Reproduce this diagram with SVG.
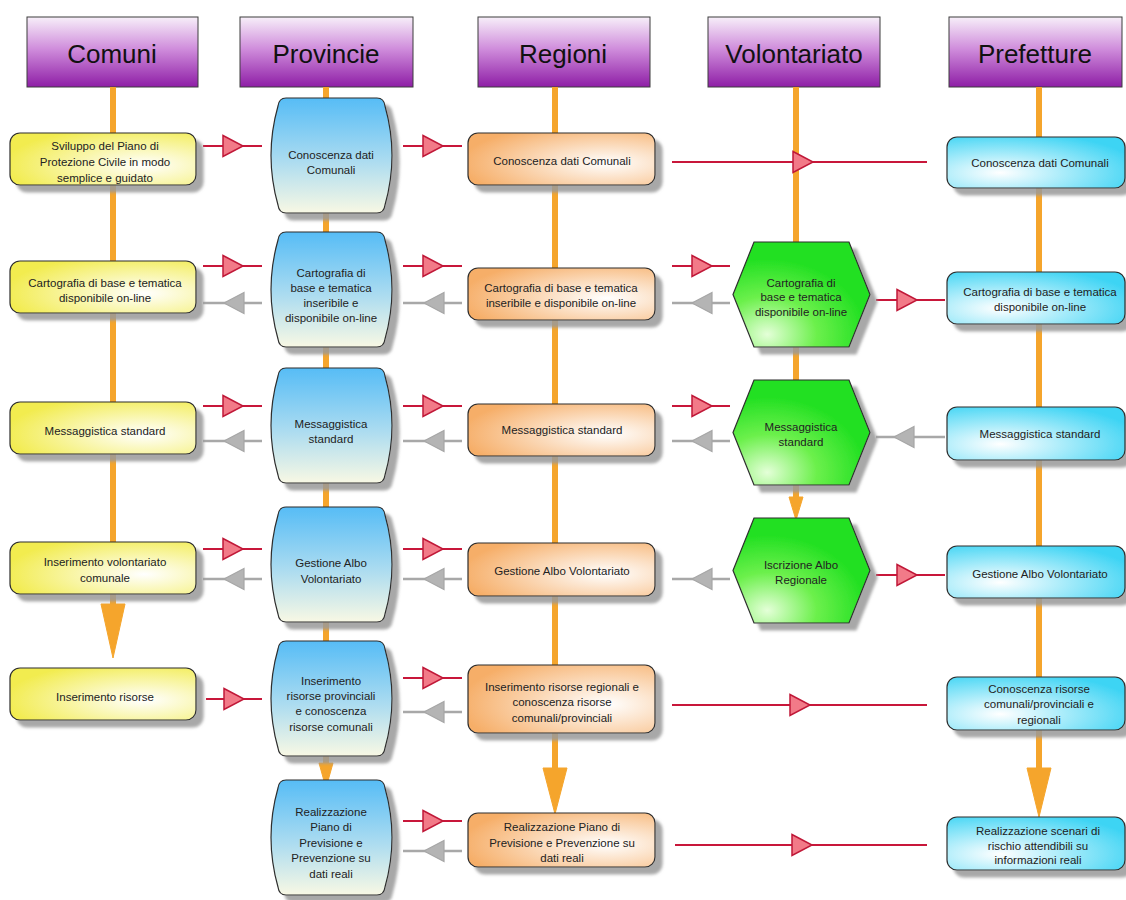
<svg xmlns="http://www.w3.org/2000/svg" xmlns:xlink="http://www.w3.org/1999/xlink" width="1126" height="900" viewBox="0 0 1126 900">
  <defs>
    <linearGradient id="gHdr" x1="0" y1="0" x2="0" y2="1">
      <stop offset="0" stop-color="#f7eff9"/>
      <stop offset="0.45" stop-color="#d08edc"/>
      <stop offset="1" stop-color="#8e1ea6"/>
    </linearGradient>
    <radialGradient id="gYel" cx="0.72" cy="0.62" r="0.75">
      <stop offset="0" stop-color="#ffffff"/>
      <stop offset="1" stop-color="#f2ec50"/>
    </radialGradient>
    <radialGradient id="gOra" cx="0.74" cy="0.58" r="0.78">
      <stop offset="0" stop-color="#ffffff"/>
      <stop offset="1" stop-color="#f6ae68"/>
    </radialGradient>
    <radialGradient id="gCya" cx="0.3" cy="0.7" r="0.8">
      <stop offset="0" stop-color="#ffffff"/>
      <stop offset="1" stop-color="#3ed4f4"/>
    </radialGradient>
    <radialGradient id="gGrn" cx="0.25" cy="0.88" r="0.72">
      <stop offset="0" stop-color="#e4ffd8"/>
      <stop offset="0.5" stop-color="#6cf04c"/>
      <stop offset="1" stop-color="#22e022"/>
    </radialGradient>
    <linearGradient id="gBlu" x1="0" y1="0" x2="0" y2="1">
      <stop offset="0" stop-color="#56bcf6"/>
      <stop offset="0.55" stop-color="#acdcf0"/>
      <stop offset="1" stop-color="#f8f8e4"/>
    </linearGradient>
    <filter id="shadow" x="-10%" y="-10%" width="130%" height="130%">
      <feDropShadow dx="7" dy="7" stdDeviation="1.5" flood-color="#999999" flood-opacity="0.85"/>
    </filter>
    <!-- barrel shape used by the Provincie lane, 123 x 115 -->
    <path id="barrel" d="M16,0 H107 Q114,0 115,8 Q129,57.5 115,107 Q114,115 107,115 H16 Q9,115 8,107 Q-6,57.5 8,8 Q9,0 16,0 Z"/>
    <!-- hexagon used by the Volontariato lane, 137 x 105 -->
    <polygon id="hex" points="0,52.5 21,0 116,0 137,52.5 116,105 21,105"/>
    <!-- mid-line arrowheads -->
    <polygon id="triR" points="0,-10.5 20,0 0,10.5" fill="#f27a88" stroke="#c01838" stroke-width="1.5" stroke-linejoin="miter"/>
    <polygon id="triG" points="20,-10.5 0,0 20,10.5" fill="#b4b4b4" stroke="#a6a6a6" stroke-width="1.2"/>
  </defs>
  <style>
    .hdr { fill: url(#gHdr); stroke: #3c3c3c; stroke-width: 1; }
    .htxt { font-family: "Liberation Sans", Arial, sans-serif; font-size: 26px; fill: #111; text-anchor: middle; }
    .t { font-family: "Liberation Sans", Arial, sans-serif; font-size: 11.5px; fill: #222; text-anchor: middle; }
    .node { stroke: #2e2e2e; stroke-width: 1.2; filter: url(#shadow); }
    .yel { fill: url(#gYel); }
    .ora { fill: url(#gOra); }
    .cya { fill: url(#gCya); }
    .grn { fill: url(#gGrn); }
    .blu { fill: url(#gBlu); }
    .life { stroke: #f5a52c; stroke-width: 6; fill: none; }
    .lifeHead { fill: #f5a52c; stroke: #f5a52c; stroke-width: 1; stroke-linejoin: round; }
    .red { stroke: #c8173a; stroke-width: 2; fill: none; }
    .gray { stroke: #a8a8a8; stroke-width: 2.5; fill: none; }
  </style>

  <rect width="1126" height="900" fill="#ffffff"/>

  <!-- lane headers -->
  <g id="hdr-comuni"><rect class="hdr" x="27" y="17" width="171" height="70"/><text class="htxt" x="112" y="63">Comuni</text></g>
  <g id="hdr-provincie"><rect class="hdr" x="240" y="17" width="173" height="70"/><text class="htxt" x="326" y="63">Provincie</text></g>
  <g id="hdr-regioni"><rect class="hdr" x="478" y="17" width="172" height="70"/><text class="htxt" x="563" y="63">Regioni</text></g>
  <g id="hdr-volontariato"><rect class="hdr" x="708" y="17" width="172" height="70"/><text class="htxt" x="794" y="63">Volontariato</text></g>
  <g id="hdr-prefetture"><rect class="hdr" x="949" y="17" width="173" height="70"/><text class="htxt" x="1035" y="63">Prefetture</text></g>

  <g id="connectors">
    <!-- lane lifelines -->
    <line class="life" x1="113" y1="87" x2="113" y2="606"/>
    <polygon class="lifeHead" points="101,604 125,604 113,658"/>
    <line class="life" x1="326" y1="87" x2="326" y2="766"/>
    <polygon class="lifeHead" points="319,763 333,763 326,788"/>
    <line class="life" x1="555" y1="87" x2="555" y2="770"/>
    <polygon class="lifeHead" points="543,768 567,768 555,814"/>
    <line class="life" x1="796" y1="87" x2="796" y2="499"/>
    <polygon class="lifeHead" points="789,497 803,497 796,520"/>
    <line class="life" x1="1039" y1="87" x2="1039" y2="770"/>
    <polygon class="lifeHead" points="1027,768 1051,768 1039,817"/>

    <!-- row 1 -->
    <line class="red" x1="203" y1="146" x2="262" y2="146"/><use href="#triR" x="223" y="146"/>
    <line class="red" x1="403" y1="146" x2="462" y2="146"/><use href="#triR" x="423" y="146"/>
    <line class="red" x1="672" y1="162" x2="927" y2="162"/><use href="#triR" x="793" y="162"/>

    <!-- row 2 -->
    <line class="red" x1="203" y1="266" x2="262" y2="266"/><use href="#triR" x="223" y="266"/>
    <line class="gray" x1="203" y1="303" x2="262" y2="303"/><use href="#triG" x="224" y="303"/>
    <line class="red" x1="403" y1="266" x2="462" y2="266"/><use href="#triR" x="423" y="266"/>
    <line class="gray" x1="403" y1="303" x2="462" y2="303"/><use href="#triG" x="424" y="303"/>
    <line class="red" x1="672" y1="266" x2="730" y2="266"/><use href="#triR" x="692" y="266"/>
    <line class="gray" x1="672" y1="303" x2="730" y2="303"/><use href="#triG" x="692" y="303"/>
    <line class="red" x1="876" y1="300" x2="945" y2="300"/><use href="#triR" x="897" y="300"/>

    <!-- row 3 -->
    <line class="red" x1="203" y1="406" x2="262" y2="406"/><use href="#triR" x="223" y="406"/>
    <line class="gray" x1="203" y1="441" x2="262" y2="441"/><use href="#triG" x="224" y="441"/>
    <line class="red" x1="403" y1="406" x2="462" y2="406"/><use href="#triR" x="423" y="406"/>
    <line class="gray" x1="403" y1="441" x2="462" y2="441"/><use href="#triG" x="424" y="441"/>
    <line class="red" x1="672" y1="406" x2="730" y2="406"/><use href="#triR" x="692" y="406"/>
    <line class="gray" x1="672" y1="441" x2="730" y2="441"/><use href="#triG" x="692" y="441"/>
    <line class="gray" x1="876" y1="437" x2="945" y2="437"/><use href="#triG" x="894" y="437"/>

    <!-- row 4 -->
    <line class="red" x1="203" y1="549" x2="262" y2="549"/><use href="#triR" x="223" y="549"/>
    <line class="gray" x1="203" y1="579" x2="262" y2="579"/><use href="#triG" x="224" y="579"/>
    <line class="red" x1="403" y1="549" x2="462" y2="549"/><use href="#triR" x="423" y="549"/>
    <line class="gray" x1="403" y1="579" x2="462" y2="579"/><use href="#triG" x="424" y="579"/>
    <line class="gray" x1="672" y1="579" x2="730" y2="579"/><use href="#triG" x="692" y="579"/>
    <line class="red" x1="876" y1="575" x2="945" y2="575"/><use href="#triR" x="897" y="575"/>

    <!-- row 5 -->
    <line class="red" x1="206" y1="699" x2="262" y2="699"/><use href="#triR" x="224" y="699"/>
    <line class="red" x1="403" y1="678" x2="462" y2="678"/><use href="#triR" x="423" y="678"/>
    <line class="gray" x1="403" y1="712" x2="462" y2="712"/><use href="#triG" x="424" y="712"/>
    <line class="red" x1="672" y1="705" x2="927" y2="705"/><use href="#triR" x="790" y="705"/>

    <!-- row 6 -->
    <line class="red" x1="403" y1="821" x2="462" y2="821"/><use href="#triR" x="423" y="821"/>
    <line class="gray" x1="403" y1="851" x2="462" y2="851"/><use href="#triG" x="424" y="851"/>
    <line class="red" x1="675" y1="845" x2="927" y2="845"/><use href="#triR" x="792" y="845"/>
  </g>

  <!-- Comuni lane -->
  <g id="com-1"><rect class="node yel" x="10" y="133" width="186" height="52" rx="10"/>
    <text class="t"><tspan x="105" y="150">Sviluppo del Piano di</tspan><tspan x="105" y="166">Protezione Civile in modo</tspan><tspan x="105" y="181.5">semplice e guidato</tspan></text></g>
  <g id="com-2"><rect class="node yel" x="10" y="261" width="186" height="52" rx="10"/>
    <text class="t"><tspan x="105" y="287">Cartografia di base e tematica</tspan><tspan x="105" y="302">disponibile on-line</tspan></text></g>
  <g id="com-3"><rect class="node yel" x="10" y="402" width="186" height="52" rx="10"/>
    <text class="t" x="105" y="435">Messaggistica standard</text></g>
  <g id="com-4"><rect class="node yel" x="10" y="542" width="186" height="52" rx="10"/>
    <text class="t"><tspan x="105" y="566">Inserimento volontariato</tspan><tspan x="105" y="582">comunale</tspan></text></g>
  <g id="com-5"><rect class="node yel" x="10" y="668" width="186" height="52" rx="10"/>
    <text class="t" x="105" y="701">Inserimento risorse</text></g>

  <!-- Provincie lane -->
  <g id="prov-1"><use href="#barrel" class="node blu" x="270" y="98"/>
    <text class="t"><tspan x="331" y="159">Conoscenza dati</tspan><tspan x="331" y="174">Comunali</tspan></text></g>
  <g id="prov-2"><use href="#barrel" class="node blu" x="270" y="232"/>
    <text class="t"><tspan x="331" y="277">Cartografia di</tspan><tspan x="331" y="292">base e tematica</tspan><tspan x="331" y="307">inseribile e</tspan><tspan x="331" y="322">disponibile on-line</tspan></text></g>
  <g id="prov-3"><use href="#barrel" class="node blu" x="270" y="368"/>
    <text class="t"><tspan x="331" y="428">Messaggistica</tspan><tspan x="331" y="443">standard</tspan></text></g>
  <g id="prov-4"><use href="#barrel" class="node blu" x="270" y="507"/>
    <text class="t"><tspan x="331" y="567">Gestione Albo</tspan><tspan x="331" y="583">Volontariato</tspan></text></g>
  <g id="prov-5"><use href="#barrel" class="node blu" x="270" y="641"/>
    <text class="t"><tspan x="331" y="685">Inserimento</tspan><tspan x="331" y="700">risorse provinciali</tspan><tspan x="331" y="715">e conoscenza</tspan><tspan x="331" y="731">risorse comunali</tspan></text></g>
  <g id="prov-6"><use href="#barrel" class="node blu" x="270" y="780"/>
    <text class="t"><tspan x="331" y="816">Realizzazione</tspan><tspan x="331" y="831">Piano di</tspan><tspan x="331" y="847">Previsione e</tspan><tspan x="331" y="862">Prevenzione su</tspan><tspan x="331" y="878">dati reali</tspan></text></g>

  <!-- Regioni lane -->
  <g id="reg-1"><rect class="node ora" x="468" y="133" width="187" height="52" rx="10"/>
    <text class="t" x="562" y="165">Conoscenza dati Comunali</text></g>
  <g id="reg-2"><rect class="node ora" x="468" y="268" width="187" height="52" rx="10"/>
    <text class="t"><tspan x="561" y="292">Cartografia di base e tematica</tspan><tspan x="561" y="307">inseribile e disponibile on-line</tspan></text></g>
  <g id="reg-3"><rect class="node ora" x="468" y="404" width="187" height="52" rx="10"/>
    <text class="t" x="562" y="434">Messaggistica standard</text></g>
  <g id="reg-4"><rect class="node ora" x="468" y="543" width="187" height="53" rx="10"/>
    <text class="t" x="562" y="575">Gestione Albo Volontariato</text></g>
  <g id="reg-5"><rect class="node ora" x="468" y="665" width="187" height="68" rx="10"/>
    <text class="t"><tspan x="562" y="691">Inserimento risorse regionali e</tspan><tspan x="562" y="706">conoscenza risorse</tspan><tspan x="562" y="722">comunali/provinciali</tspan></text></g>
  <g id="reg-6"><rect class="node ora" x="468" y="813" width="187" height="54" rx="10"/>
    <text class="t"><tspan x="562" y="831">Realizzazione Piano di</tspan><tspan x="562" y="847">Previsione e Prevenzione su</tspan><tspan x="562" y="862">dati reali</tspan></text></g>

  <!-- Volontariato lane -->
  <g id="vol-1"><use href="#hex" class="node grn" x="733" y="242"/>
    <text class="t"><tspan x="801" y="287">Cartografia di</tspan><tspan x="801" y="301">base e tematica</tspan><tspan x="801" y="316">disponibile on-line</tspan></text></g>
  <g id="vol-2"><use href="#hex" class="node grn" x="733" y="380"/>
    <text class="t"><tspan x="801" y="431">Messaggistica</tspan><tspan x="801" y="446">standard</tspan></text></g>
  <g id="vol-3"><use href="#hex" class="node grn" x="733" y="518"/>
    <text class="t"><tspan x="801" y="569">Iscrizione Albo</tspan><tspan x="801" y="584">Regionale</tspan></text></g>

  <!-- Prefetture lane -->
  <g id="pref-1"><rect class="node cya" x="947" y="137" width="178" height="51" rx="10"/>
    <text class="t" x="1040" y="167">Conoscenza dati Comunali</text></g>
  <g id="pref-2"><rect class="node cya" x="947" y="272" width="178" height="52" rx="10"/>
    <text class="t"><tspan x="1040" y="296">Cartografia di base e tematica</tspan><tspan x="1040" y="311">disponibile on-line</tspan></text></g>
  <g id="pref-3"><rect class="node cya" x="947" y="407" width="178" height="53" rx="10"/>
    <text class="t" x="1040" y="438">Messaggistica standard</text></g>
  <g id="pref-4"><rect class="node cya" x="947" y="546" width="178" height="52" rx="10"/>
    <text class="t" x="1040" y="578">Gestione Albo Volontariato</text></g>
  <g id="pref-5"><rect class="node cya" x="947" y="677" width="178" height="53" rx="10"/>
    <text class="t"><tspan x="1039" y="693">Conoscenza risorse</tspan><tspan x="1039" y="708">comunali/provinciali e</tspan><tspan x="1039" y="724">regionali</tspan></text></g>
  <g id="pref-6"><rect class="node cya" x="947" y="817" width="178" height="53" rx="10"/>
    <text class="t"><tspan x="1038" y="835">Realizzazione scenari di</tspan><tspan x="1038" y="850">rischio attendibili su</tspan><tspan x="1038" y="864">informazioni reali</tspan></text></g>
</svg>
